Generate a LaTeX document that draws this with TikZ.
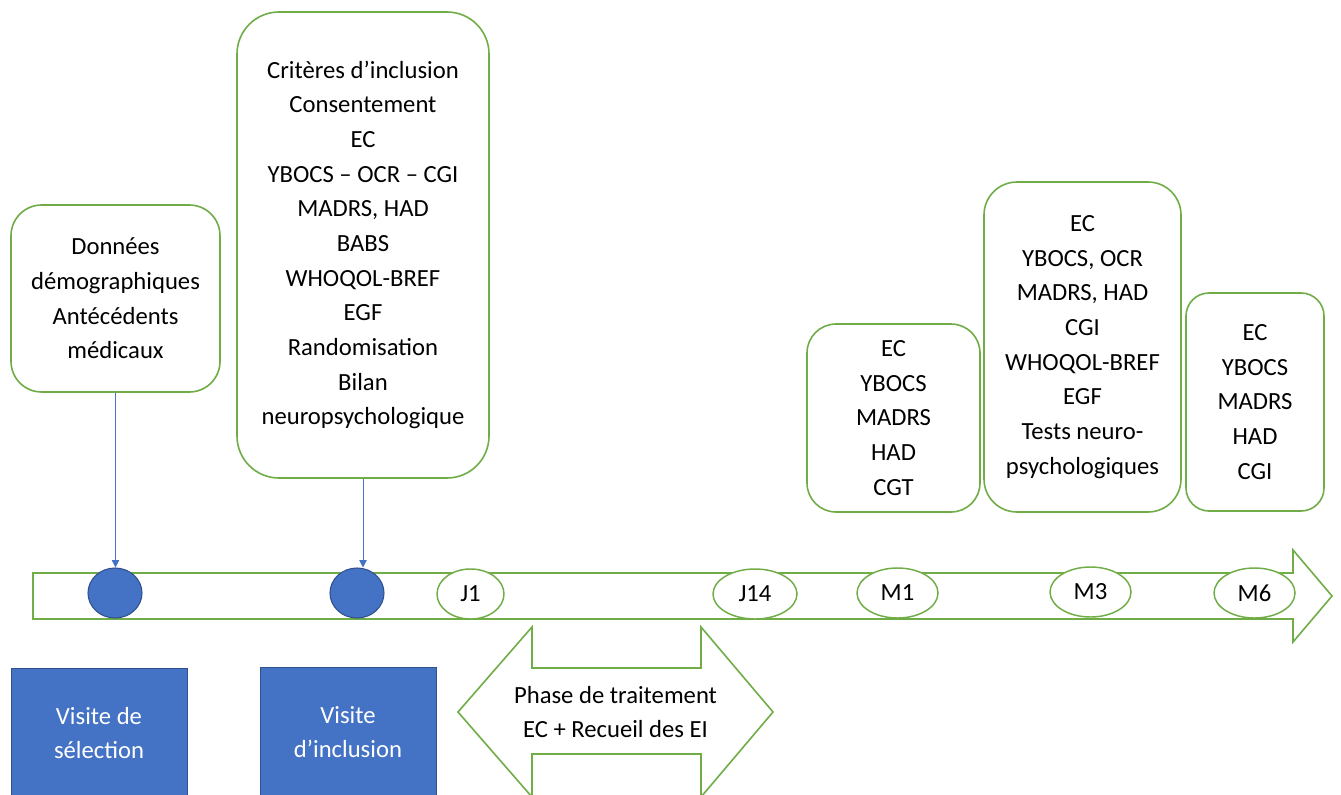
\documentclass[tikz,border=0pt]{standalone}
\usepackage{fontspec}
\setmainfont{Carlito}
\usetikzlibrary{arrows.meta,shapes.geometric}
\definecolor{grn}{HTML}{70AD47}
\definecolor{blu}{HTML}{4472C4}
\definecolor{dblu}{HTML}{2F528F}
\tikzset{
  txt/.style={font=\fontsize{18.5}{26}\selectfont, align=center, inner sep=0pt},
  gbox/.style={txt, draw=grn, line width=1.2pt, fill=white, rectangle},
  dot/.style={ellipse, draw=dblu, line width=0.8pt, fill=blu, minimum width=40.5pt, minimum height=37.5pt, inner sep=0pt},
  tmark/.style={txt, ellipse, draw=grn, line width=1.1pt, fill=white, minimum height=37.5pt},
  bluebox/.style={txt, rectangle, fill=blu, draw=dblu, line width=0.6pt, text=white, minimum width=132pt, minimum height=97.5pt},
  conn/.style={draw=blu, line width=0.75pt, -{Triangle[width=5.5pt,length=5.5pt]}}
}
\begin{document}
\begin{tikzpicture}[x=0.75pt,y=-0.75pt]
\useasboundingbox (0,0) rectangle (1341,795);
\clip (0,0) rectangle (1341,795);
\fill[white] (0,0) rectangle (1341,795);
% timeline arrow
\draw[grn, line width=1.2pt, line join=miter, fill=white]
  (33,573) -- (1293,573) -- (1293,550) -- (1332,596) -- (1293,642) -- (1293,619) -- (33,619) -- cycle;
% treatment double arrow
\draw[grn, line width=1.2pt, fill=white]
  (458,712) -- (532,627) -- (532,668) -- (701,668) -- (701,627) -- (773,712)
  -- (701,797) -- (701,754) -- (532,754) -- (532,797) -- cycle;
\node[txt] (phase) at (615.5,712) {Phase de traitement\\EC + Recueil des EI};
% top boxes
\node[gbox, minimum width=156.75pt, minimum height=140.25pt, rounded corners=23pt] (b1) at (115.5,298.5)
  {Données\\démographiques\\Antécédents\\médicaux};
\node[gbox, minimum width=189pt, minimum height=349.5pt, rounded corners=31.5pt] (b2) at (363,245)
  {Critères d’inclusion\\Consentement\\EC\\YBOCS – OCR – CGI\\MADRS, HAD\\BABS\\WHOQOL-BREF\\EGF\\Randomisation\\Bilan\\neuropsychologique};
\node[gbox, minimum width=129.75pt, minimum height=141pt, rounded corners=21.75pt] (bm1) at (893.5,418)
  {EC\\YBOCS\\MADRS\\HAD\\CGT};
\node[gbox, minimum width=147.75pt, minimum height=247.5pt, rounded corners=24.75pt] (bm3) at (1082.5,347)
  {EC\\YBOCS, OCR\\MADRS, HAD\\CGI\\WHOQOL-BREF\\EGF\\Tests neuro-\\psychologiques};
\node[gbox, minimum width=103.5pt, minimum height=163.5pt, rounded corners=17.25pt] (bm6) at (1255,402)
  {EC\\YBOCS\\MADRS\\HAD\\CGI};
% timeline points
\node[dot] (c1) at (115,593) {};
\node[dot] (c2) at (357,593) {};
\node[tmark, minimum width=50.25pt] (j1) at (470.5,594) {J1};
\node[tmark, minimum width=63pt] (j14) at (755,594) {J14};
\node[tmark, minimum width=60.75pt] (m1) at (897.5,593) {M1};
\node[tmark, minimum width=60.75pt] (m3) at (1090.5,592) {M3};
\node[tmark, minimum width=60.75pt] (m6) at (1254.5,593) {M6};
% connectors
\draw[conn] (b1.south) -- (b1.south |- c1.north);
\draw[conn] (b2.south) -- (b2.south |- c2.north);
% visit boxes
\node[bluebox] (vs) at (99,733) {Visite de\\sélection};
\node[bluebox] (vi) at (348,732) {Visite\\d’inclusion};
\end{tikzpicture}
\end{document}
